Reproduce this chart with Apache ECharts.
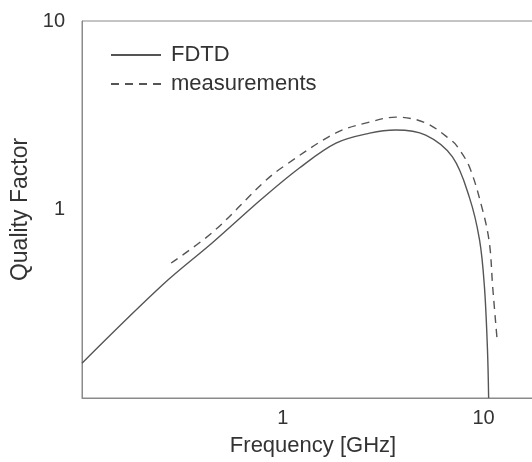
<!DOCTYPE html>
<html>
<head>
<meta charset="utf-8">
<script src="https://cdn.jsdelivr.net/npm/echarts@6/dist/echarts.min.js"></script>
<style>
  html, body { margin: 0; padding: 0; background: #fff; }
  #chart { width: 532px; height: 462px; }
</style>
</head>
<body>
<div id="chart"></div>
<script>
// FDTD curve (frequency in GHz, quality factor)
const fdtdFreq = [0.1, 0.253, 0.449, 0.795, 1.21, 1.84, 2.71, 3.65, 5.15, 7.0, 8.5, 9.55, 10.1, 10.46, 10.6];
const fdtdQ    = [0.153, 0.40, 0.67, 1.15, 1.66, 2.25, 2.54, 2.64, 2.48, 1.9, 1.16, 0.69, 0.39, 0.18, 0.1];

// measurements curve
const measFreq = [0.278, 0.449, 0.795, 1.0, 1.84, 2.71, 3.65, 5.15, 7.0, 7.42, 8.51, 9.9, 10.7, 11.1, 11.7];
const measQ    = [0.52, 0.76, 1.38, 1.68, 2.55, 2.91, 3.09, 2.88, 2.3, 2.15, 1.68, 0.99, 0.66, 0.39, 0.20];

const xTickLabels = ['1', '10'];
const yTickLabels = ['1', '10'];

const chartDom = document.getElementById('chart');
const myChart = echarts.init(chartDom);

const textColor = '#333';
const lineColor = '#555';
const font = 'Liberation Sans, Arial, sans-serif';

function pickLabel(labels) {
    return function (v) {
        const s = String(Math.round(v * 1000) / 1000);
        return labels.indexOf(s) >= 0 ? s : '';
    };
}

const option = {
    backgroundColor: '#fff',
    animation: false,
    grid: {
        left: 82,
        top: 21,
        bottom: 64,
        width: 462,
        outerBoundsMode: 'none',
        containLabel: false,
        show: true,
        borderColor: '#8a8a8a',
        borderWidth: 1
    },
    legend: {
        orient: 'vertical',
        left: 105,
        top: 39,
        itemWidth: 50,
        itemHeight: 14,
        itemGap: 7,
        itemStyle: { opacity: 0 },
        textStyle: { color: textColor, fontSize: 22, fontFamily: font, padding: [0, 0, 0, 5] },
        data: ['FDTD', 'measurements']
    },
    xAxis: {
        type: 'log',
        logBase: 10,
        min: 0.1,
        max: 20,
        name: 'Frequency [GHz]',
        nameLocation: 'middle',
        nameGap: 37,
        nameTextStyle: { color: textColor, fontSize: 22, fontFamily: font },
        axisLine: { lineStyle: { color: '#8a8a8a', width: 1 } },
        axisTick: { show: false },
        splitLine: { show: false },
        axisLabel: {
            color: textColor,
            fontSize: 20,
            fontFamily: font,
            margin: 10,
            formatter: pickLabel(xTickLabels)
        }
    },
    yAxis: {
        type: 'log',
        logBase: 10,
        min: 0.1,
        max: 10,
        name: 'Quality Factor',
        nameLocation: 'middle',
        nameRotate: 90,
        nameGap: 48,
        nameTextStyle: { color: textColor, fontSize: 23, fontFamily: font },
        axisLine: { lineStyle: { color: '#8a8a8a', width: 1 } },
        axisTick: { show: false },
        splitLine: { show: false },
        axisLabel: {
            color: textColor,
            fontSize: 20,
            fontFamily: font,
            margin: 17,
            formatter: pickLabel(yTickLabels)
        }
    },
    series: [
        {
            name: 'FDTD',
            type: 'line',
            data: fdtdFreq.map((f, i) => [f, fdtdQ[i]]),
            symbol: 'none',
            smooth: 0.35,
            lineStyle: { color: lineColor, width: 1.4, type: 'solid' },
            itemStyle: { color: lineColor }
        },
        {
            name: 'measurements',
            type: 'line',
            data: measFreq.map((f, i) => [f, measQ[i]]),
            symbol: 'none',
            smooth: 0.35,
            lineStyle: { color: lineColor, width: 1.4, type: [8, 6] },
            itemStyle: { color: lineColor }
        }
    ]
};

myChart.setOption(option);
</script>
</body>
</html>
